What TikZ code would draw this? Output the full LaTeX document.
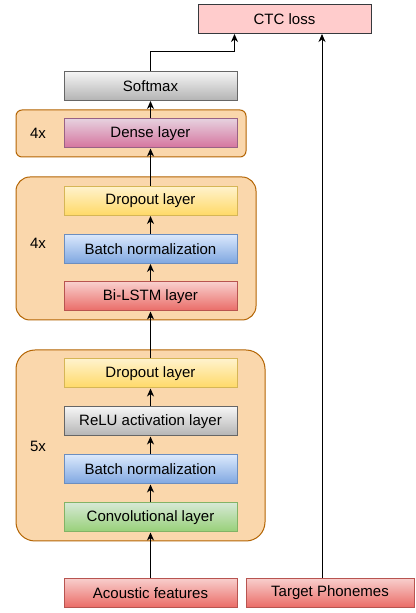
\documentclass[tikz,border=0pt]{standalone}
\usepackage{fontspec}
\setmainfont{Liberation Sans}
\usepackage{tikz}
\usetikzlibrary{arrows.meta}

\definecolor{grayA}{HTML}{F5F5F5}\definecolor{grayB}{HTML}{B3B3B3}\definecolor{grayL}{HTML}{666666}
\definecolor{pinkA}{HTML}{E6D0DE}\definecolor{pinkB}{HTML}{D5739D}\definecolor{pinkL}{HTML}{996185}
\definecolor{yelA}{HTML}{FFF2CC}\definecolor{yelB}{HTML}{FFD966}\definecolor{yelL}{HTML}{D6B656}
\definecolor{bluA}{HTML}{DAE8FC}\definecolor{bluB}{HTML}{7EA6E0}\definecolor{bluL}{HTML}{6C8EBF}
\definecolor{redA}{HTML}{F8CECC}\definecolor{redB}{HTML}{EA6B66}\definecolor{redL}{HTML}{B85450}
\definecolor{grnA}{HTML}{D5E8D4}\definecolor{grnB}{HTML}{97D077}\definecolor{grnL}{HTML}{82B366}
\definecolor{lossF}{HTML}{FFCCCC}\definecolor{lossL}{HTML}{36393D}
\definecolor{grpF}{HTML}{FAD7AC}\definecolor{grpL}{HTML}{B46504}

\begin{document}
\begin{tikzpicture}[x=1pt,y=1pt,font=\fontsize{15}{18}\selectfont,
  lay/.style n args={3}{draw=#3,top color=#1,bottom color=#2,minimum width=173pt,minimum height=29pt,inner sep=0pt,line width=1pt},
  grp/.style={draw=grpL,fill=grpF,line width=1pt},
  arr/.style={-{Stealth[length=8pt,width=7pt,inset=2.5pt]},line width=1pt}]
\useasboundingbox[fill=white] (0,0) rectangle (415,613);

\draw[grp,rounded corners=6pt] (16,456) rectangle (246,503);
\draw[grp,rounded corners=14pt] (16,293) rectangle (256,436);
\draw[grp,rounded corners=19pt] (16,72) rectangle (265,263);
\node (rep1) at (38,480) {4x};
\node (rep2) at (38,370) {4x};
\node (rep3) at (38,167) {5x};

\node[draw=lossL,fill=lossF,minimum width=173pt,minimum height=29pt,line width=1pt] (ctc) at (284.5,594) {CTC loss};
\node[lay={grayA}{grayB}{grayL}] (softmax) at (150.5,527) {Softmax};
\node[lay={pinkA}{pinkB}{pinkL}] (dense) at (150.5,479.5) {Dense layer};
\node[lay={yelA}{yelB}{yelL}] (dropB) at (150.5,412) {Dropout layer};
\node[lay={bluA}{bluB}{bluL}] (bnB) at (150.5,364) {Batch normalization};
\node[lay={redA}{redB}{redL}] (lstm) at (150.5,316.5) {Bi-LSTM layer};
\node[lay={yelA}{yelB}{yelL}] (dropA) at (150.5,239.5) {Dropout layer};
\node[lay={grayA}{grayB}{grayL}] (relu) at (150.5,191.5) {ReLU activation layer};
\node[lay={bluA}{bluB}{bluL}] (bnA) at (150.5,143.5) {Batch normalization};
\node[lay={grnA}{grnB}{grnL}] (conv) at (150.5,95.5) {Convolutional layer};
\node[lay={redA}{redB}{redL}] (acoustic) at (150.5,20) {Acoustic features};
\node[lay={redA}{redB}{redL},minimum width=168pt] (target) at (330,20) {Target Phonemes};

\foreach \a/\b in {acoustic/conv,conv/bnA,bnA/relu,relu/dropA,dropA/lstm,lstm/bnB,bnB/dropB,dropB/dense,dense/softmax} {
   \draw[arr] (\a) -- (\b);
}
\draw[arr] (softmax.north) -- ++(0,19.5) -| ([xshift=-50pt]ctc.south);
\draw[arr] ([xshift=-8pt]target.north) -- ([xshift=-8pt]target.north |- ctc.south);
\end{tikzpicture}
\end{document}
